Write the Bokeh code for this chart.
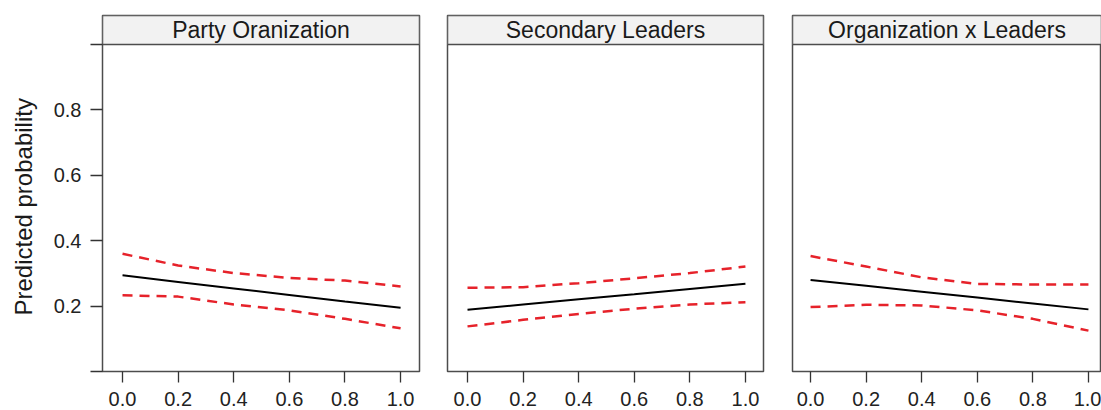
from bokeh.plotting import figure
from bokeh.layouts import row
from bokeh.models import FixedTicker, NumeralTickFormatter, CustomJSTickFormatter, Range1d
from bokeh.core.properties import value
from bokeh.embed import file_html
from bokeh.resources import INLINE

# ---- data ----
x_vals = [0.0, 0.2, 0.4, 0.6, 0.8, 1.0]
x_ticks = [0.0, 0.2, 0.4, 0.6, 0.8, 1.0]
y_ticks = [0.0, 0.2, 0.4, 0.6, 0.8, 1.0]
panel_titles = ["Party Oranization", "Secondary Leaders", "Organization x Leaders"]
y_label = "Predicted probability"

org_mean = [0.294, 0.274, 0.254, 0.234, 0.214, 0.195]
org_upper = [0.360, 0.324, 0.301, 0.286, 0.278, 0.260]
org_lower = [0.233, 0.229, 0.205, 0.187, 0.161, 0.132]

lead_mean = [0.189, 0.205, 0.221, 0.236, 0.252, 0.268]
lead_upper = [0.256, 0.258, 0.270, 0.285, 0.301, 0.321]
lead_lower = [0.138, 0.158, 0.176, 0.192, 0.205, 0.212]

int_mean = [0.280, 0.262, 0.244, 0.226, 0.208, 0.190]
int_upper = [0.353, 0.321, 0.288, 0.268, 0.266, 0.266]
int_lower = [0.197, 0.204, 0.202, 0.187, 0.161, 0.125]

series = [(org_mean, org_upper, org_lower),
          (lead_mean, lead_upper, lead_lower),
          (int_mean, int_upper, int_lower)]

# ---- styling / layout ----
FONT = "Liberation Sans"
Y_TOP = 1.0887
STRIP_BOTTOM = 1.0
panel_specs = [
    # (min_border_left, frame_width, min_border_right, x_start, x_end, show_y)
    (102, 317, 14, -0.072, 1.068, True),
    (14, 316, 15, -0.072, 1.065, False),
    (14, 309, 0, -0.065, 1.047, False),
]

figs = []
for i, (title, (m, up, lo), spec) in enumerate(zip(panel_titles, series, panel_specs)):
    bl, fw, br, xs, xe, show_y = spec
    p = figure(frame_width=fw, frame_height=356,
               x_range=Range1d(xs, xe), y_range=Range1d(0, Y_TOP),
               output_backend="svg", toolbar_location=None,
               y_axis_location="left" if show_y else None,
               min_border_left=bl, min_border_right=br,
               min_border_top=15, min_border_bottom=0)
    p.grid.visible = False
    p.outline_line_color = "#4d4d4d"
    p.outline_line_width = 1.5
    p.background_fill_color = "white"
    p.border_fill_color = "white"

    # strip
    p.quad(left=[xs], right=[xe], bottom=[STRIP_BOTTOM], top=[Y_TOP],
           fill_color="#f2f2f2", line_color="#4d4d4d", line_width=1.5)
    p.text(x=[(xs + xe) / 2], y=[(STRIP_BOTTOM + Y_TOP) / 2], text=[title],
           text_align="center", text_baseline="middle",
           text_font_size="23px", text_color="#1a1a1a", text_font=value(FONT))

    # lines
    p.line(x_vals, up, line_color="#e6222a", line_width=2.5, line_dash="10 7")
    p.line(x_vals, lo, line_color="#e6222a", line_width=2.5, line_dash="10 7")
    p.line(x_vals, m, line_color="black", line_width=2)

    xa = p.xaxis[0]
    xa.ticker = FixedTicker(ticks=x_ticks)
    xa.formatter = NumeralTickFormatter(format="0.0")
    xa.axis_line_color = None
    xa.major_tick_out = 11
    xa.major_tick_in = 0
    xa.minor_tick_line_color = None
    xa.major_tick_line_color = "#333333"
    xa.major_tick_line_width = 1.3
    xa.major_label_text_font_size = "20px"
    xa.major_label_text_font = FONT
    xa.major_label_text_color = "#222222"
    xa.major_label_standoff = 9

    if show_y:
        ya = p.yaxis[0]
        ya.ticker = FixedTicker(ticks=y_ticks)
        ya.formatter = CustomJSTickFormatter(
            code="return (tick < 0.1 || tick > 0.9) ? '' : tick.toFixed(1);")
        ya.axis_line_color = None
        ya.major_tick_out = 12
        ya.major_tick_in = 0
        ya.minor_tick_line_color = None
        ya.major_tick_line_color = "#333333"
        ya.major_tick_line_width = 1.3
        ya.major_label_text_font_size = "20px"
        ya.major_label_text_font = FONT
        ya.major_label_text_color = "#222222"
        ya.major_label_standoff = 9
        # trailing no-break spaces shift the title to the centre of the panel body
        ya.axis_label = y_label + "\u00a0" * 4
        ya.axis_label_text_font_size = "24px"
        ya.axis_label_text_font = FONT
        ya.axis_label_text_font_style = "normal"
        ya.axis_label_text_color = "#1a1a1a"
        ya.axis_label_standoff = 14
    figs.append(p)

layout = row(*figs, spacing=0)
open("out.html", "w").write(file_html(layout, INLINE))
